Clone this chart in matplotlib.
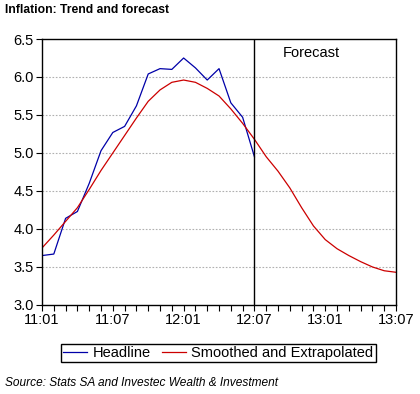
import matplotlib
matplotlib.use("Agg")
import matplotlib.pyplot as plt
from matplotlib.ticker import MultipleLocator, FixedLocator

plt.rcParams['font.family'] = ['Liberation Sans', 'DejaVu Sans']

months = ["11:01", "11:02", "11:03", "11:04", "11:05", "11:06", "11:07", "11:08",
          "11:09", "11:10", "11:11", "11:12", "12:01", "12:02", "12:03", "12:04",
          "12:05", "12:06", "12:07", "12:08", "12:09", "12:10", "12:11", "12:12",
          "13:01", "13:02", "13:03", "13:04", "13:05", "13:06", "13:07"]

headline = [3.65, 3.67, 4.14, 4.23, 4.60, 5.03, 5.27, 5.35, 5.62, 6.04, 6.11, 6.10,
            6.25, 6.12, 5.96, 6.11, 5.66, 5.47, 4.95]

smoothed = [3.75, 3.92, 4.10, 4.28, 4.52, 4.77, 5.00, 5.23, 5.46, 5.68, 5.83, 5.93,
            5.96, 5.93, 5.85, 5.75, 5.58, 5.39, 5.18, 4.95, 4.76, 4.54, 4.28, 4.04,
            3.86, 3.74, 3.65, 3.57, 3.50, 3.45, 3.43]

tick_labels = ["11:01", "11:07", "12:01", "12:07", "13:01", "13:07"]
forecast_start = "12:07"

x_head = list(range(len(headline)))
x_smooth = list(range(len(smoothed)))

fig = plt.figure(figsize=(4.2, 3.94), dpi=100)
ax = fig.add_axes([0.1, 0.226, 0.843, 0.675])

l1, = ax.plot(x_head, headline, color='#0000a8', lw=0.9, label='Headline')
l2, = ax.plot(x_smooth, smoothed, color='#cc0000', lw=0.9, label='Smoothed and Extrapolated')

fx = months.index(forecast_start)
ax.axvline(fx, color='black', lw=1.0)
ax.text(22.8, 6.32, 'Forecast', ha='center', va='center', fontsize=10.5)

ax.set_xlim(0, len(months) - 1)
ax.set_ylim(3.0, 6.5)
ax.yaxis.set_major_locator(MultipleLocator(0.5))
ax.yaxis.set_major_formatter(matplotlib.ticker.FormatStrFormatter('%.1f'))
ax.xaxis.set_major_locator(FixedLocator([months.index(t) for t in tick_labels]))
ax.set_xticklabels(tick_labels)
ax.xaxis.set_minor_locator(MultipleLocator(1))

for y in [3.5, 4.0, 4.5, 5.0, 5.5, 6.0]:
    ax.axhline(y, color='#b0b0b0', lw=0.8, ls=(0, (1.5, 1.5)), zorder=0)

ax.tick_params(axis='both', which='major', direction='out', length=4, width=0.8,
               labelsize=10.5, pad=2)
ax.tick_params(axis='x', which='minor', direction='out', length=4, width=0.8)
for s in ax.spines.values():
    s.set_linewidth(1.0)

fig.legend(handles=[l1, l2], loc='center', bbox_to_anchor=(0.520, 0.104), ncol=2,
           fontsize=10.5, frameon=True, fancybox=False, edgecolor='black',
           framealpha=1, handlelength=1.6, handletextpad=0.4, columnspacing=0.8,
           borderpad=0.15, borderaxespad=0)

fig.text(0.012, 0.975, 'Inflation: Trend and forecast', fontsize=8.7, fontweight='bold',
         ha='left', va='center')
fig.text(0.012, 0.028, 'Source: Stats SA and Investec Wealth & Investment', fontsize=8.6,
         style='italic', ha='left', va='center')

fig.savefig('out.png', dpi=100)
